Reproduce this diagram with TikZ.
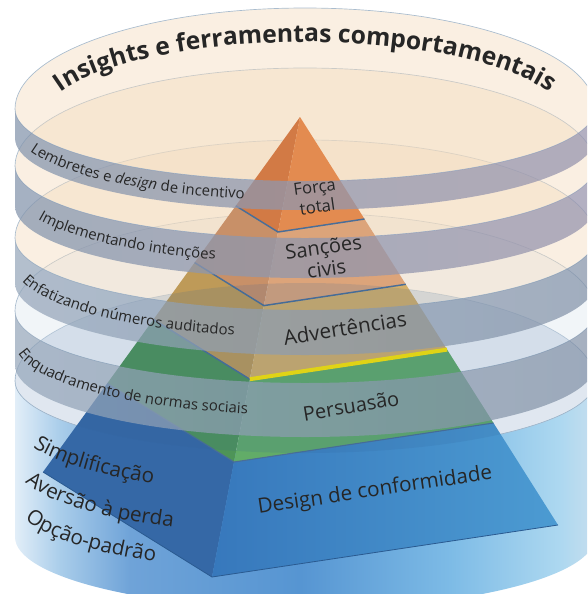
\documentclass[tikz,border=0pt]{standalone}
\usepackage{fontspec}
\setmainfont{Open Sans}
\usetikzlibrary{decorations.text}

\definecolor{beige}{HTML}{F3DCBF}
\definecolor{paleblue}{HTML}{E0E8F0}
\definecolor{rimblue}{HTML}{A9BCCE}
\definecolor{labgray}{HTML}{262626}
\definecolor{seamblue}{HTML}{4A6E98}
\definecolor{seamyellow}{HTML}{FFE800}
\definecolor{warmL}{HTML}{8797AE}
\definecolor{warmM}{HTML}{8B5E88}
\definecolor{warmR}{HTML}{9A96AE}
\definecolor{coolL}{HTML}{95A6BA}
\definecolor{coolM}{HTML}{76879E}
\definecolor{coolR}{HTML}{8392A8}
\definecolor{designL}{HTML}{3778BC}
\definecolor{designR}{HTML}{4C9BD2}
\definecolor{wallA}{HTML}{E2EEF8}
\definecolor{wallB}{HTML}{A9CDEA}
\definecolor{wallC}{HTML}{6FA3D8}
\definecolor{wallD}{HTML}{5695D2}
\definecolor{wallE}{HTML}{7DBBE6}
\definecolor{wallF}{HTML}{ADD8F0}
\definecolor{wallG}{HTML}{C6DEEE}

\pgfdeclarehorizontalshading{basewall}{100bp}{color(0bp)=(wallA); color(25bp)=(wallA); color(28.9bp)=(wallB); color(34.9bp)=(wallC); color(49.6bp)=(wallD); color(62.5bp)=(wallE); color(72bp)=(wallF); color(75bp)=(wallG); color(100bp)=(wallG)}

\newcommand{\bandfont}{\fontsize{11.2}{13}\selectfont\color{labgray}}
\newcommand{\basefont}{\fontsize{15.5}{18}\selectfont\color{labgray}}
\newcommand{\titlefont}{\fontsize{18.5}{21}\selectfont\bfseries\color{labgray}}

\begin{document}
\begin{tikzpicture}[x=0.75pt,y=0.75pt,yscale=-1,xscale=1,
  face/.style={fill=beige,fill opacity=0.45,draw=rimblue,line width=0.5},
  warmband/.style={left color=warmL,middle color=warmM,right color=warmR,fill opacity=0.75},
  coolband/.style={left color=coolL,middle color=coolM,right color=coolR,fill opacity=0.72},
  seam/.style={draw=seamblue,line width=1.1},
  pyrlabel/.style={text=labgray,inner sep=0.75pt}]
	\useasboundingbox (0,0) rectangle (587,594);
	\clip (0,0) rectangle (587,594);
	
	%Shape: Cylinder wall [id:base]
	\path[shading=basewall] (15,381) -- (15,537) arc[start angle=180,end angle=0,x radius=290,y radius=72] -- (595,381) arc[start angle=0,end angle=180,x radius=290,y radius=72] -- cycle;
	%Shape: Ellipse [id:baseface]
	\draw[draw=rimblue,line width=0.5] (15,381) arc[start angle=180,end angle=360,x radius=290,y radius=98] arc[start angle=0,end angle=180,x radius=290,y radius=72] -- cycle;
	%Shape: Ellipse [id:face4]
	\draw[face,fill=paleblue] (15,311) arc[start angle=180,end angle=360,x radius=290,y radius=98] arc[start angle=0,end angle=180,x radius=290,y radius=72] -- cycle;
	%Shape: Ellipse [id:face3]
	\draw[face] (15,238) arc[start angle=180,end angle=360,x radius=290,y radius=98] arc[start angle=0,end angle=180,x radius=290,y radius=72] -- cycle;
	%Shape: Ellipse [id:face2]
	\draw[face] (15,166) arc[start angle=180,end angle=360,x radius=290,y radius=98] arc[start angle=0,end angle=180,x radius=290,y radius=72] -- cycle;
	%Shape: Ellipse [id:face1]
	\draw[face] (15,109) arc[start angle=180,end angle=360,x radius=290,y radius=101] arc[start angle=0,end angle=180,x radius=290,y radius=72] -- cycle;
	
	%Shape: Pyramid, Forca total
	\fill[color={rgb,255:red,210;green,122;blue,69}] (300,117) -- (235.8,205.8) -- (278,232) -- cycle;
	\fill[color={rgb,255:red,227;green,139;blue,80}] (300,117) -- (278,232) -- (364.5,219) -- cycle;
	%Shape: Pyramid, Sancoes civis
	\fill[color={rgb,255:red,200;green,144;blue,104}] (235.8,205.8) -- (194.6,262.6) -- (263.9,305.6) -- (278,232) -- cycle;
	\fill[color={rgb,255:red,220;green,164;blue,122}] (278,232) -- (263.9,305.6) -- (405.8,284.3) -- (364.5,219) -- cycle;
	%Shape: Pyramid, Advertencias
	\fill[color={rgb,255:red,190;green,154;blue,88}] (194.6,262.6) -- (153.5,319.4) -- (249.8,379.2) -- (263.9,305.6) -- cycle;
	\fill[color={rgb,255:red,212;green,175;blue,106}] (263.9,305.6) -- (249.8,379.2) -- (447.1,349.6) -- (405.8,284.3) -- cycle;
	%Shape: Pyramid, Persuasao
	\fill[color={rgb,255:red,78;green,148;blue,88}] (153.5,319.4) -- (107.3,383.3) -- (234,462) -- (249.8,379.2) -- cycle;
	\fill[color={rgb,255:red,98;green,172;blue,104}] (249.8,379.2) -- (234,462) -- (493.5,423) -- (447.1,349.6) -- cycle;
	%Shape: Pyramid, Design de conformidade
	\fill[color={rgb,255:red,53;green,104;blue,166}] (107.3,383.3) -- (43,472) -- (212,577) -- (234,462) -- cycle;
	\path[left color=designL,right color=designR] (234,462) -- (212,577) -- (558,525) -- (493.5,423) -- cycle;
	
	%Straight Lines [id:seams]
	\draw[seam] (235.8,205.8) -- (278,232) -- (364.5,219);
	\draw[seam] (194.6,262.6) -- (263.9,305.6) -- (405.8,284.3);
	\draw[seam] (153.5,319.4) -- (249.8,379.2);
	\draw[draw=seamyellow,line width=3] (249.8,379.2) -- (447.1,349.6);
	\draw[seam,line width=0.8] (107.3,383.3) -- (234,462) -- (493.5,423);
	\draw[draw={rgb,255:red,42;green,90;blue,144},line width=0.6] (43,472) -- (212,577) -- (558,525);
	
	%Shape: Ellipse tint [id:baseface]
	\fill[color={rgb,255:red,47;green,97;blue,152},fill opacity=0.15] (15,381) arc[start angle=180,end angle=360,x radius=290,y radius=98] arc[start angle=0,end angle=180,x radius=290,y radius=72] -- cycle;
	
	%Shape: Band 4
	\path[coolband] (15,311) -- (15,365) arc[start angle=180,end angle=0,x radius=290,y radius=72] -- (595,311) arc[start angle=0,end angle=180,x radius=290,y radius=72] -- cycle;
	%Shape: Band 3
	\path[coolband] (15,238) -- (15,283) arc[start angle=180,end angle=0,x radius=290,y radius=72] -- (595,238) arc[start angle=0,end angle=180,x radius=290,y radius=72] -- cycle;
	%Shape: Band 2
	\path[warmband] (15,166) -- (15,206) arc[start angle=180,end angle=0,x radius=290,y radius=72] -- (595,166) arc[start angle=0,end angle=180,x radius=290,y radius=72] -- cycle;
	%Shape: Band 1
	\path[warmband] (15,109) -- (15,138) arc[start angle=180,end angle=0,x radius=290,y radius=72] -- (595,109) arc[start angle=0,end angle=180,x radius=290,y radius=72] -- cycle;
	
	% Text Node
	\path[decorate,decoration={text along path,text align=center,text={|\titlefont|Insights e ferramentas comportamentais}}] (56,96) arc[start angle=200,end angle=340,x radius=265,y radius=82];
	% Text Node
	\path[decorate,decoration={text along path,text={|\bandfont|Lembretes e |\bandfont\itshape|design|\bandfont| de incentivo}}] (30,151.3) arc[start angle=161.5,end angle=20,x radius=290,y radius=72];
	% Text Node
	\path[decorate,decoration={text along path,text={|\bandfont|Implementando intenções}}] (38,219.1) arc[start angle=157,end angle=20,x radius=290,y radius=72];
	% Text Node
	\path[decorate,decoration={text along path,text={|\bandfont|Enfatizando números auditados}}] (22,281.2) arc[start angle=167.4,end angle=20,x radius=290,y radius=72];
	% Text Node
	\path[decorate,decoration={text along path,text={|\bandfont|Enquadramento de normas sociais}}] (18,353.3) arc[start angle=171.8,end angle=20,x radius=290,y radius=72];
	% Text Node
	\path[decorate,decoration={text along path,text={|\basefont|Simplificação}}] (33,447) arc[start angle=159.7,end angle=40,x radius=290,y radius=72];
	% Text Node
	\path[decorate,decoration={text along path,text={|\basefont|Aversão à perda}}] (25,482) arc[start angle=164.9,end angle=40,x radius=290,y radius=72];
	% Text Node
	\path[decorate,decoration={text along path,text={|\basefont|Opção-padrão}}] (25,519) arc[start angle=164.9,end angle=40,x radius=290,y radius=72];
	
	% Text Node
	\node[pyrlabel,font=\fontsize{12.5}{15}\selectfont,align=center,rotate=8] (force) at (316,197) {Força\\total};
	% Text Node
	\node[pyrlabel,font=\fontsize{15}{16.5}\selectfont,align=center,rotate=8] (sanctions) at (325,258) {Sanções\\civis};
	% Text Node
	\node[pyrlabel,font=\fontsize{15.5}{18}\selectfont,rotate=9] (warnings) at (345,328) {Advertências};
	% Text Node
	\node[pyrlabel,font=\fontsize{15}{18}\selectfont,rotate=9.5] (persuasion) at (351,406) {Persuasão};
	% Text Node
	\node[pyrlabel,font=\fontsize{15.5}{18}\selectfont,rotate=8.5] (design) at (375,491) {Design de conformidade};
	
\end{tikzpicture}
\end{document}
